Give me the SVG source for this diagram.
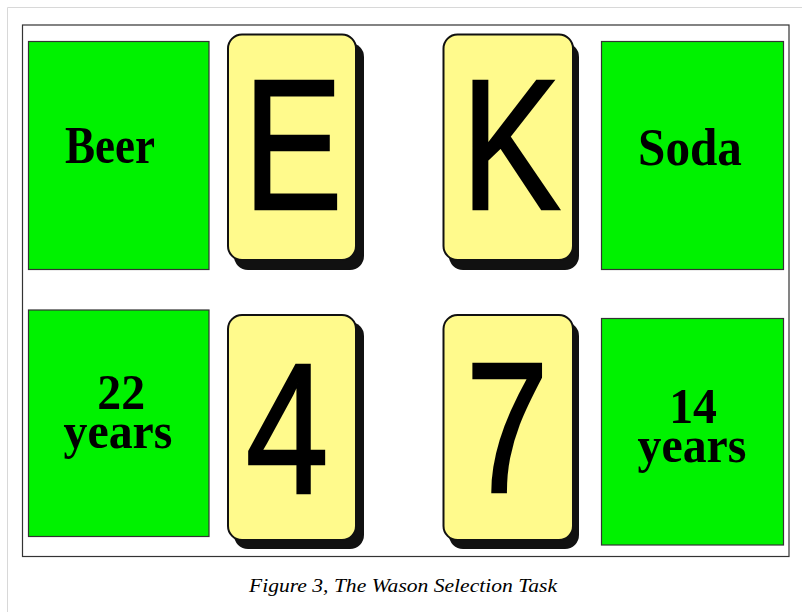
<svg xmlns="http://www.w3.org/2000/svg" width="802" height="612" viewBox="0 0 802 612">
<defs>
<style>
.green{fill:#00f200;stroke:#333;stroke-width:1.2}
.card{fill:#fffa8c;stroke:#111;stroke-width:2}
.shadow{fill:#111}
.lbl{font-family:"Liberation Serif","Times New Roman",serif;font-weight:bold;fill:#000;text-anchor:middle}
.big{font-family:"Liberation Sans",Arial,sans-serif;font-size:186px;fill:#000;stroke:#000;stroke-width:2.5;text-anchor:middle}
.cap{font-family:"Liberation Serif","Times New Roman",serif;font-style:italic;font-size:18px;fill:#000;text-anchor:middle}
</style>
</defs>
<rect width="802" height="612" fill="#fff"/>
<path d="M7.5 612 V7.5 H802" fill="none" stroke="#d8d8d8" stroke-width="1"/>
<rect x="22.5" y="25" width="766.5" height="531.5" fill="#fff" stroke="#333" stroke-width="1.2"/>

<g id="beer">
<rect class="green" x="28.5" y="41.5" width="180.5" height="228"/>
<text class="lbl" font-size="46" transform="translate(110,163) scale(0.98,1.15)">Beer</text>
</g>
<g id="card-e">
<rect class="shadow" x="234" y="43" width="130" height="227" rx="14"/>
<rect class="card" x="228" y="34.5" width="128" height="225.5" rx="14"/>
<text class="big" transform="translate(293,209) scale(0.8,1)">E</text>
</g>
<g id="card-k">
<rect class="shadow" x="449" y="43" width="130" height="227" rx="14"/>
<rect class="card" x="443.5" y="34.5" width="129.5" height="225.5" rx="14"/>
<text class="big" transform="translate(511,209) scale(0.8,1)">K</text>
</g>
<g id="soda">
<rect class="green" x="601.5" y="41.5" width="182" height="228"/>
<text class="lbl" font-size="46" transform="translate(690,165) scale(1.07,1.15)">Soda</text>
</g>

<g id="age22">
<rect class="green" x="28.5" y="310" width="180.5" height="226.5"/>
<text class="lbl" font-size="46" transform="translate(118,409) scale(1.04,1.12)"><tspan x="3" y="0">22</tspan><tspan x="0" y="35">years</tspan></text>
</g>
<g id="card-4">
<rect class="shadow" x="234" y="322" width="130" height="227" rx="14"/>
<rect class="card" x="228" y="315" width="128" height="225" rx="14"/>
<text class="big" transform="translate(287,493) scale(0.8,1)">4</text>
</g>
<g id="card-7">
<rect class="shadow" x="449" y="322" width="130" height="227" rx="14"/>
<rect class="card" x="443.5" y="315" width="129.5" height="225" rx="14"/>
<text class="big" transform="translate(507,492) scale(0.8,1)">7</text>
</g>
<g id="age14">
<rect class="green" x="601.5" y="318.5" width="182" height="226.5"/>
<text class="lbl" font-size="46" transform="translate(692,423) scale(1.04,1.12)"><tspan x="1" y="0">14</tspan><tspan x="0" y="34.5">years</tspan></text>
</g>

<g id="connectors"></g>

<text class="cap" x="403" y="592" textLength="308" lengthAdjust="spacingAndGlyphs">Figure 3, The Wason Selection Task</text>
</svg>
